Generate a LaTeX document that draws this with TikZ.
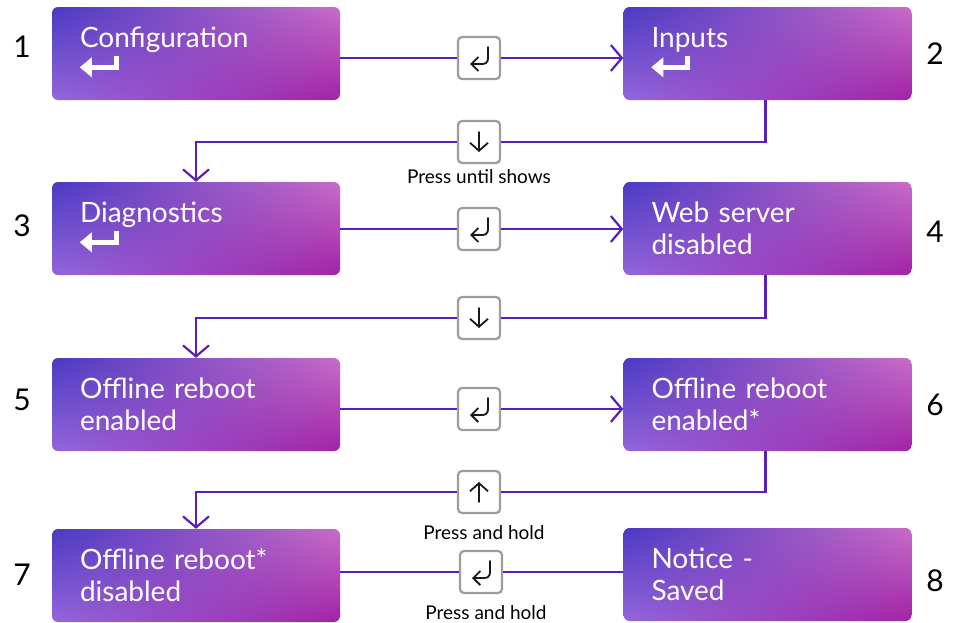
\documentclass[tikz,border=0pt]{standalone}
\usepackage{fontspec}
\setmainfont{Lato}
\usetikzlibrary{arrows.meta, positioning, shadings}

\definecolor{flowline}{HTML}{5A1EBE}
\definecolor{keyrim}{HTML}{9C9C9C}
\definecolor{gradtl}{HTML}{4A3AC3}
\definecolor{gradtr}{HTML}{C86CC7}
\definecolor{gradbl}{HTML}{9366DB}
\definecolor{gradbr}{HTML}{A223A6}

\newcommand{\bstrut}{\rule[-3pt]{0pt}{26pt}}

\tikzset{
  menubox/.style={rectangle, rounded corners=6, minimum width=288, minimum height=93,
    text width=232, inner xsep=28, inner ysep=0, align=left, text=white,
    font=\fontsize{28}{32}\selectfont,
    shading=bilinear interpolation, upper left=gradtl, upper right=gradtr,
    lower left=gradbl, lower right=gradbr},
  keybox/.style={rectangle, draw=keyrim, line width=2.2, fill=white,
    rounded corners=4, minimum size=42, inner sep=0},
  keylabel/.style={inner sep=0, font=\fontsize{19}{22}\selectfont},
  stepno/.style={inner sep=0, font=\fontsize{30}{36}\selectfont},
  flow/.style={draw=flowline, line width=2.2},
  flowtip/.style={flow, -{Straight Barb[length=11pt, width=26pt]}},
  glyph/.style={draw=black!90, line width=1.8, line cap=round},
  enterbar/.style={draw=white, line width=5, line join=miter}
}

\begin{document}
\begin{tikzpicture}[x=1pt, y=-1pt]
  \useasboundingbox (0,0) rectangle (957,622);

  % menu screens
  \node[menubox] (b1) at (196,53.5) {\bstrut Configuration\\\bstrut};
  \node[menubox] (b2) at (767.5,53.5) {\bstrut Inputs\\\bstrut};
  \node[menubox] (b3) at (196,228.5) {\bstrut Diagnostics\\\bstrut};
  \node[menubox] (b4) at (767.5,228.5) {\bstrut Web server\\disabled\bstrut};
  \node[menubox] (b5) at (196,404.5) {\bstrut Offline reboot\\enabled\bstrut};
  \node[menubox] (b6) at (767.5,404.5) {\bstrut Offline reboot\\enabled*\bstrut};
  \node[menubox] (b7) at (196,575.5) {\bstrut Offline reboot*\\disabled\bstrut};
  \node[menubox] (b8) at (767.5,574.5) {\bstrut Notice -\\Saved\bstrut};

  % enter marks
  \foreach \b in {b1,b2,b3} {
    \draw[enterbar] ([shift={(64.5,49)}]\b.north west) -- ++(0,11.5) -- ++(-26,0);
    \fill[white] ([shift={(28,60.5)}]\b.north west) -- ++(12,-10) -- ++(0,20) -- cycle;
  }

  % step numbers
  \node[stepno] (n1) at (22,47) {1};
  \node[stepno] (n2) at (935,54) {2};
  \node[stepno] (n3) at (22,226) {3};
  \node[stepno] (n4) at (935,232) {4};
  \node[stepno] (n5) at (22,400) {5};
  \node[stepno] (n6) at (935,405) {6};
  \node[stepno] (n7) at (22,575) {7};
  \node[stepno] (n8) at (935,581) {8};

  % keys
  \node[keybox] (k1) at (479,58) {};
  \node[keybox] (k2) at (479,142) {};
  \node[keybox] (k3) at (479,229) {};
  \node[keybox] (k4) at (479,318) {};
  \node[keybox] (k5) at (479,409) {};
  \node[keybox] (k6) at (479,492) {};
  \node[keybox] (k7) at (481,572) {};

  \node[keylabel, below=5pt of k2] (l2) {Press until shows};
  \node[keylabel, below=11pt of k6, xshift=5] (l6) {Press and hold};
  \node[keylabel, below=11pt of k7, xshift=5] (l7) {Press and hold};

  % key glyphs
  \foreach \k in {k1,k3,k5,k7}
    \draw[glyph, -{Straight Barb[length=7pt, width=14pt]}]
      ([shift={(9,-11)}]\k.center) -- ([shift={(9,-1)}]\k.center)
      .. controls ([shift={(9,6)}]\k.center) and ([shift={(6,6)}]\k.center) .. ([shift={(1,6)}]\k.center)
      -- ([shift={(-9,6)}]\k.center);
  \foreach \k in {k2,k4}
    \draw[glyph, -{Straight Barb[length=8pt, width=18pt]}]
      ([shift={(0,-10)}]\k.center) -- ([shift={(0,10)}]\k.center);
  \draw[glyph, -{Straight Barb[length=8pt, width=18pt]}]
    ([shift={(0,10)}]k6.center) -- ([shift={(0,-10)}]k6.center);

  % connectors
  \draw[flow] (b1.east |- k1) -- (k1.west);
  \draw[flowtip] (k1.east) -- (k1 -| b2.west);
  \draw[flow] ([xshift=-2]b2.south) |- (k2.east);
  \draw[flowtip] (k2.west) -| (b3.north);
  \draw[flow] (b3.east |- k3) -- (k3.west);
  \draw[flowtip] (k3.east) -- (k3 -| b4.west);
  \draw[flow] ([xshift=-2]b4.south) |- (k4.east);
  \draw[flowtip] (k4.west) -| (b5.north);
  \draw[flow] (b5.east |- k5) -- (k5.west);
  \draw[flowtip] (k5.east) -- (k5 -| b6.west);
  \draw[flow] ([xshift=-2]b6.south) |- (k6.east);
  \draw[flowtip] (k6.west) -| (b7.north);
  \draw[flow] (b7.east |- k7) -- (k7.west);
  \draw[flow] (k7.east) -- (k7 -| b8.west);
\end{tikzpicture}
\end{document}
